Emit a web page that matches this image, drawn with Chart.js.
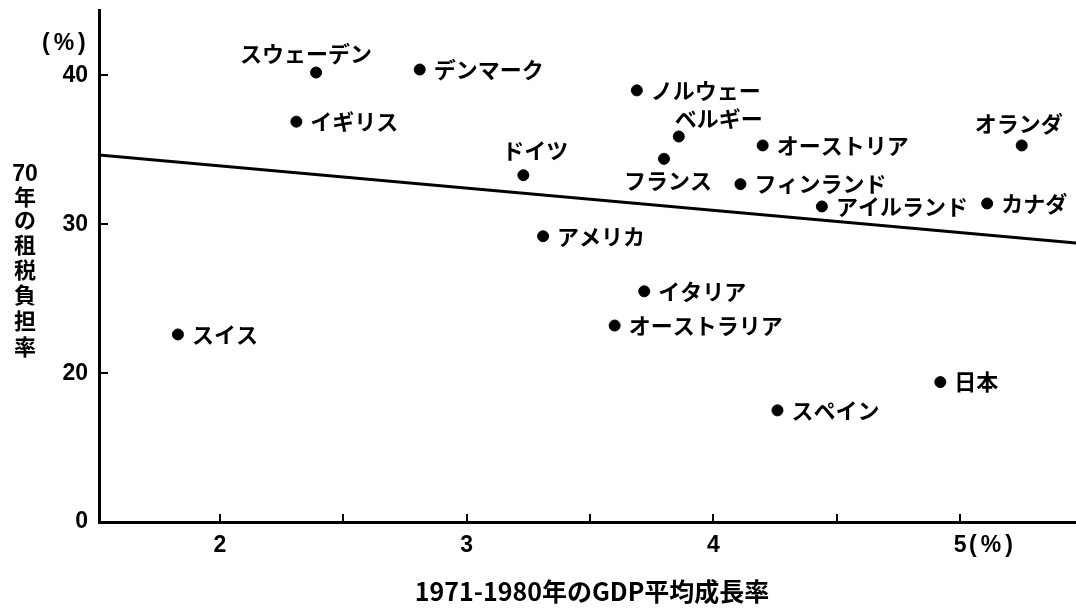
<!DOCTYPE html>
<html>
<head>
<meta charset="utf-8">
<script src="https://cdn.jsdelivr.net/npm/chart.js@4/dist/chart.umd.min.js"></script>
<style>
  html, body { margin: 0; padding: 0; background: #fff; }
  #wrap { width: 1076px; height: 613px; }
</style>
</head>
<body>
<div id="wrap"><canvas id="c" width="1076" height="613"></canvas></div>
<script>
// ---- data ----
const countries = ['スウェーデン','デンマーク','イギリス','ドイツ','アメリカ','スイス','ノルウェー','ベルギー','フランス','オーストリア','フィンランド','アイルランド','カナダ','オランダ','イタリア','オーストラリア','日本','スペイン'];
const gdpGrowth = [2.39, 2.81, 2.31, 3.23, 3.31, 1.83, 3.69, 3.86, 3.80, 4.20, 4.11, 4.44, 5.11, 5.25, 3.72, 3.60, 4.92, 4.26];
const taxBurden = [40.2, 40.4, 36.9, 33.3, 29.2, 22.6, 39.0, 35.9, 34.4, 35.3, 32.7, 31.2, 31.4, 35.3, 25.5, 23.2, 19.4, 17.5];
const trendX = [1.51, 5.47];
const trendY = [34.66, 28.74];
const xTickValues = [2, 3, 4, 5];
const xMinorTicks = [2, 2.5, 3, 3.5, 4, 4.5, 5];
const yTickValues = [10, 20, 30, 40];   // 10 is shown as "0" (broken axis)
const yTickLabels = ['0', '20', '30', '40'];
const yInnerTicks = [20, 30, 40];
const xTitle = '1971-1980年のGDP平均成長率';
const yTitle = ['70','年','の','租','税','負','担','率'];
const unitText = '(%)';

// ---- label placement (annotation layout only) ----
const placement = {
  'スウェーデン': {dx: -10, dy: -19, align: 'center'},
  'ドイツ':       {dx: 12, dy: -25, align: 'center'},
  'ベルギー':     {dx: 40, dy: -18, align: 'center'},
  'フランス':     {dx: 4,  dy: 22, align: 'center'},
  'オランダ':     {dx: -3, dy: -22, align: 'center'}
};

const points = gdpGrowth.map((g, i) => ({x: g, y: taxBurden[i]}));
const trend = trendX.map((v, i) => ({x: v, y: trendY[i]}));

const JP = "'Noto Sans CJK JP', 'Noto Sans', sans-serif";
const NUM = "'Liberation Sans', Arial, sans-serif";

const decor = {
  id: 'decor',
  afterDraw(chart) {
    const ctx = chart.ctx;
    const xs = chart.scales.x, ys = chart.scales.y;
    const a = chart.chartArea;
    ctx.save();
    ctx.strokeStyle = '#000';
    ctx.fillStyle = '#000';
    // inner ticks
    ctx.lineWidth = 2;
    xMinorTicks.forEach(v => {
      const px = Math.round(xs.getPixelForValue(v));
      ctx.beginPath(); ctx.moveTo(px, a.bottom); ctx.lineTo(px, a.bottom - 8); ctx.stroke();
    });
    yInnerTicks.forEach(v => {
      const py = Math.round(ys.getPixelForValue(v));
      ctx.beginPath(); ctx.moveTo(a.left, py); ctx.lineTo(a.left + 9, py); ctx.stroke();
    });
    // point labels
    ctx.font = 'bold 22px ' + JP;
    ctx.textBaseline = 'middle';
    countries.forEach((name, i) => {
      const px = xs.getPixelForValue(gdpGrowth[i]);
      const py = ys.getPixelForValue(taxBurden[i]);
      const p = placement[name];
      if (p) {
        ctx.textAlign = p.align;
        ctx.fillText(name, px + p.dx, py + p.dy);
      } else {
        ctx.textAlign = 'left';
        ctx.fillText(name, px + 14, py);
      }
    });
    // "(%)" units
    ctx.font = 'bold 23px ' + NUM;
    ctx.textAlign = 'left';
    if ('letterSpacing' in ctx) ctx.letterSpacing = '4px';
    ctx.fillText(unitText, 42, 44);
    const p5 = xs.getPixelForValue(5);
    ctx.fillText(unitText, p5 + 9, a.bottom + 24);
    if ('letterSpacing' in ctx) ctx.letterSpacing = '0px';
    // y title, vertical stacked
    ctx.textAlign = 'center';
    const yPos = [175, 197, 220, 245, 270, 295, 321, 347];
    yTitle.forEach((ch, i) => {
      ctx.font = (i === 0 ? 'bold 23px ' + NUM : 'bold 22px ' + JP);
      ctx.fillText(ch, 25, yPos[i]);
    });
    // x title
    ctx.font = 'bold 25px ' + JP;
    ctx.textAlign = 'center';
    ctx.fillText(xTitle, 592, 591);
    ctx.restore();
  }
};

new Chart(document.getElementById('c'), {
  type: 'scatter',
  data: {
    datasets: [
      {
        label: 'countries',
        data: points,
        backgroundColor: '#000',
        borderColor: '#000',
        pointRadius: 5.5,
        pointHoverRadius: 5.5
      },
      {
        label: 'trend',
        data: trend,
        showLine: true,
        borderColor: '#000',
        borderWidth: 3,
        pointRadius: 0,
        fill: false
      }
    ]
  },
  options: {
    responsive: false,
    animation: false,
    devicePixelRatio: 1,
    layout: { autoPadding: false, padding: { top: 10, right: 0, left: 0, bottom: 0 } },
    plugins: { legend: { display: false }, tooltip: { enabled: false } },
    scales: {
      x: {
        type: 'linear',
        min: 1.51, max: 5.47,
        afterBuildTicks: s => { s.ticks = xTickValues.map(v => ({value: v})); },
        afterFit: s => { s.height = 91; s.paddingLeft = 0; s.paddingRight = 0; },
        grid: { display: false, drawTicks: false },
        border: { display: true, color: '#000', width: 3 },
        ticks: {
          color: '#000',
          padding: 10,
          font: { family: NUM, size: 23, weight: 'bold' },
          callback: v => String(v)
        }
      },
      y: {
        type: 'linear',
        min: 10, max: 44.4,
        afterBuildTicks: s => { s.ticks = yTickValues.map(v => ({value: v})); },
        afterFit: s => { s.width = 99; s.paddingTop = 0; s.paddingBottom = 0; },
        grid: { display: false, drawTicks: false },
        border: { display: true, color: '#000', width: 3 },
        ticks: {
          color: '#000',
          padding: 11,
          font: { family: NUM, size: 23, weight: 'bold' },
          callback: v => yTickLabels[yTickValues.indexOf(v)]
        }
      }
    }
  },
  plugins: [decor]
});
</script>
</body>
</html>
